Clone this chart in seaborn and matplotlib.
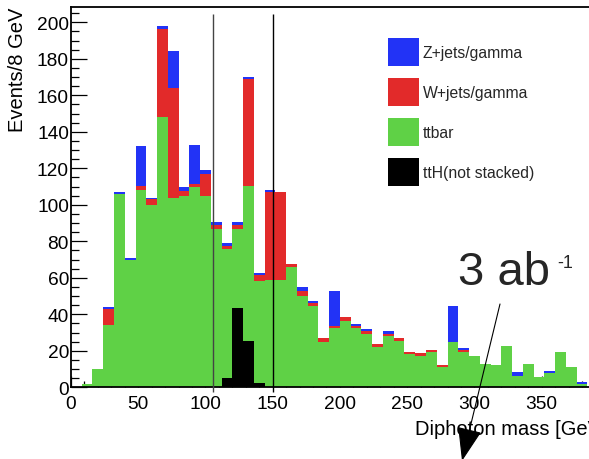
import numpy as np
import pandas as pd
import matplotlib
matplotlib.use("Agg")
import matplotlib.pyplot as plt
from matplotlib.patches import Patch
from matplotlib.ticker import MultipleLocator
import seaborn as sns

# Diphoton mass histogram, 8 GeV bins from 0 to 384 GeV
bin_width = 8
bin_edges = [float(e) for e in range(0, 384 + bin_width, bin_width)]

# Stacked backgrounds (events per bin)
ttbar = [0, 2, 10, 34, 106, 70, 108, 100, 148, 104, 105, 109.5, 105, 87, 76, 87,
         110.5, 58.5, 59, 59, 66, 50, 44.7, 25, 32.3, 36.5, 32.3, 29.2, 21.9, 28.3, 25.5, 18.2,
         17.3, 19.2, 11.1, 24.7, 19.5, 17.3, 13, 12, 22.6, 6, 13, 5.7, 8, 19.5, 11, 1.8]
w_jets = [0, 0, 0, 9, 0, 0, 2.5, 3, 48.5, 60, 2.5, 2, 12, 2, 1.5, 2,
          58.5, 3, 48, 48, 1.8, 2.7, 1.5, 1.8, 1.1, 1.8, 1.5, 1.4, 1.6, 0.9, 1.3, 1.3,
          1.3, 1.4, 1.1, 0, 1.0, 0, 0, 0, 0, 0, 0, 0, 0, 0, 0, 0]
z_jets = [0, 0, 0, 1, 1, 1, 22, 1, 1.5, 20.5, 2, 21.5, 2, 1.5, 1.3, 1.5,
          1.3, 1.3, 1.3, 0, 0, 2.2, 1.3, 0, 19.5, 0, 0.8, 1.3, 0, 1.8, 0, 0,
          0, 0, 0, 20, 1.2, 0, 0, 0, 0, 2.2, 0, 0, 1, 0, 0, 1]
# Signal, drawn on its own (not stacked)
tth = [0] * 14 + [4.9, 43.3, 25.5, 2.2] + [0] * 30

process_names = ["Z+jets/gamma", "W+jets/gamma", "ttbar"]
signal_name = "ttH(not stacked)"
colors = {"Z+jets/gamma": "#2233f6", "W+jets/gamma": "#e22a2a",
          "ttbar": "#5fd146", signal_name: "#000000"}

window_edges = [105.5, 150]
x_ticks = [0, 50, 100, 150, 200, 250, 300, 350]
y_ticks = [0, 20, 40, 60, 80, 100, 120, 140, 160, 180, 200]

centers = [e + bin_width / 2 for e in bin_edges[:-1]]
bkg = pd.concat([
    pd.DataFrame({"mass": centers, "events": vals, "process": name})
    for name, vals in zip(process_names, [z_jets, w_jets, ttbar])
], ignore_index=True)
sig = pd.DataFrame({"mass": centers, "events": tth})

sns.set_theme(style="ticks")
plt.rcParams["font.family"] = ["Liberation Sans", "DejaVu Sans"]

fig = plt.figure(figsize=(5.89, 4.60), dpi=100)
ax = fig.add_axes([0.1205, 0.1559, 0.8795, 0.8267])

sns.histplot(data=bkg, x="mass", weights="events", hue="process",
             hue_order=process_names, palette=colors, bins=bin_edges,
             multiple="stack", element="step", fill=True, alpha=1,
             linewidth=0, legend=False, ax=ax)
sns.histplot(data=sig, x="mass", weights="events", bins=bin_edges,
             element="step", fill=True, color=colors[signal_name], alpha=1,
             linewidth=0, ax=ax)

# Mass window boundaries
ax.vlines(window_edges, -2.5, 204.5, colors=["#444444", "#000000"],
          linewidth=1.0, clip_on=False, zorder=3)

ax.set_xlim(0, 385.2)
ax.set_ylim(0, 208.4)
ax.set_xticks(x_ticks)
ax.set_yticks(y_ticks)
ax.xaxis.set_minor_locator(MultipleLocator(10))
ax.yaxis.set_minor_locator(MultipleLocator(5))
ax.tick_params(axis="both", which="both", direction="in", colors="black",
               width=0.9, labelsize=13.8)
ax.tick_params(axis="x", which="major", length=8, pad=5.5)
ax.tick_params(axis="x", which="minor", length=4.3)
ax.tick_params(axis="y", which="major", length=11.5, pad=1.5)
ax.tick_params(axis="y", which="minor", length=5.8)

for side in ["left", "bottom", "top"]:
    ax.spines[side].set_color("black")
    ax.spines[side].set_linewidth(1.3)
ax.spines["right"].set_visible(False)

ax.set_ylabel("Events/8 GeV", fontsize=14.5, loc="top", color="black")
ax.yaxis.set_label_coords(-0.084, 1.0)
ax.set_xlabel("Diphoton mass [GeV]", fontsize=14.5, loc="left", color="black")
ax.xaxis.set_label_coords(0.665, -0.083)

handles = [Patch(facecolor=colors[n], edgecolor="none") for n in process_names + [signal_name]]
ax.legend(handles, process_names + [signal_name], loc="upper left",
          bbox_to_anchor=(388 / 589, 1 - 39 / 460), bbox_transform=fig.transFigure,
          frameon=False, fontsize=11.3, borderpad=0, borderaxespad=0,
          handlelength=1.97, handleheight=2.32, labelspacing=0.8,
          handletextpad=0.25)

# Luminosity annotation with arrow
fig.text(458 / 589, 1 - 285 / 460, "3 ab", fontsize=34, va="baseline", ha="left")
fig.text(557 / 589, 1 - 268 / 460, "-1", fontsize=13, va="baseline", ha="left")
ax.annotate("", xy=(462, -2), xycoords="figure pixels",
            xytext=(500, 460 - 305), textcoords="figure pixels",
            arrowprops=dict(arrowstyle="-|>,head_length=2.15,head_width=0.78",
                            mutation_scale=10, color="black", lw=0.8,
                            shrinkA=0, shrinkB=0),
            annotation_clip=False)

fig.savefig("out.png", dpi=100)
